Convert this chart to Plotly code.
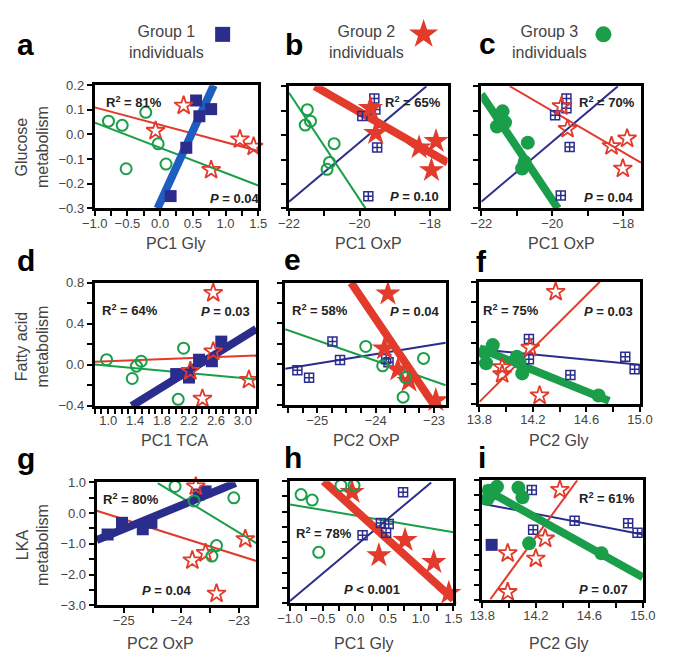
import plotly.graph_objects as go

W, H = 678, 672

NAVY = "#2B2D8C"
BLUE = "#1E5EC0"
RED = "#E23A2B"
GREEN = "#1A9E4A"
INK = "#444444"
FONT = "Liberation Sans, Arial, sans-serif"

# ---- a: glucose metabolism vs PC1 Gly (group 1 highlighted)
a_g1_x = [0.55, 0.60, 0.78, 0.40, 0.16]
a_g1_y = [0.138, 0.074, 0.103, -0.054, -0.25]
a_g2_x = [0.36, -0.07, 0.78, 1.22, 1.43]
a_g2_y = [0.117, 0.015, -0.144, -0.02, -0.049]
a_g3_x = [-0.79, -0.58, -0.22, -0.03, 0.09, -0.52]
a_g3_y = [0.054, 0.037, 0.09, -0.038, -0.12, -0.139]
a_fit_x = [[-0.04, 0.82], [-1.0, 1.5], [-1.0, 1.5]]
a_fit_y = [[-0.3, 0.2], [0.11, -0.067], [0.048, -0.207]]

# ---- b: glucose metabolism vs PC1 OxP (group 2 highlighted)
b_g1_x = [-19.58, -19.55, -19.92, -19.5, -19.75]
b_g1_y = [0.15, 0.105, 0.078, -0.051, -0.25]
b_g2_x = [-19.69, -19.54, -18.31, -17.83, -17.96]
b_g2_y = [0.11, 0.008, -0.051, -0.025, -0.144]
b_g3_x = [-21.48, -21.39, -21.54, -20.72, -20.85, -20.92]
b_g3_y = [0.104, 0.057, 0.041, -0.035, -0.112, -0.14]
b_fit_x = [[-22.0, -18.1], [-21.27, -17.5], [-22.0, -19.83]]
b_fit_y = [[-0.273, 0.2], [0.2, -0.112], [0.173, -0.3]]

# ---- c: glucose metabolism vs PC1 OxP (group 3 highlighted)
c_g1_x = [-19.6, -19.6, -19.92, -19.51, -19.76]
c_g1_y = [0.15, 0.11, 0.081, -0.049, -0.247]
c_g2_x = [-19.74, -19.57, -18.33, -17.89, -18.01]
c_g2_y = [0.118, 0.025, -0.045, -0.014, -0.137]
c_g3_x = [-21.4, -21.46, -21.56, -21.33, -20.69, -20.85, -20.78]
c_g3_y = [0.097, 0.068, 0.035, 0.052, -0.031, -0.137, -0.11]
c_fit_x = [[-22.0, -18.15], [-21.2, -17.5], [-22.0, -19.84]]
c_fit_y = [[-0.273, 0.2], [0.2, -0.113], [0.167, -0.3]]

# ---- d: fatty acid metabolism vs PC1 TCA
d_g1_x = [2.01, 2.2, 2.35, 2.54, 2.68]
d_g1_y = [-0.09, -0.124, 0.05, 0.035, 0.226]
d_g2_x = [2.56, 2.56, 2.22, 2.40, 3.09]
d_g2_y = [0.70, 0.13, -0.06, -0.33, -0.146]
d_g3_x = [0.976, 1.42, 1.49, 1.357, 2.12, 2.04]
d_g3_y = [0.05, -0.013, 0.035, -0.133, 0.162, -0.336]
d_fit_x = [[1.35, 3.2], [0.8, 3.2], [0.8, 3.2]]
d_fit_y = [[-0.4, 0.35], [0.029, 0.092], [0.003, -0.14]]

# ---- e: fatty acid metabolism vs PC2 OxP
e_g1_x = [-25.34, -25.14, -24.74, -24.61, -23.82, -23.78]
e_g1_y = [-0.06, -0.133, 0.222, 0.041, 0.05, 0.02]
e_g2_x = [-23.79, -23.85, -23.62, -23.43, -22.97]
e_g2_y = [0.692, 0.152, -0.054, -0.165, -0.355]
e_g3_x = [-24.17, -23.88, -23.18, -23.49, -23.53]
e_g3_y = [0.174, -0.016, 0.057, -0.133, -0.324]
e_fit_x = [[-25.55, -22.8], [-24.42, -23.0], [-25.55, -22.8]]
e_fit_y = [[-0.045, 0.21], [0.8, -0.4], [0.343, -0.207]]

# ---- f: fatty acid metabolism vs PC2 Gly
f_g1_x = [14.17, 14.17, 14.48, 14.89, 14.96]
f_g1_y = [0.238, 0.04, -0.117, 0.064, -0.06]
f_g2_x = [14.37, 14.18, 13.97, 13.97, 14.25]
f_g2_y = [0.70, 0.152, -0.038, -0.108, -0.317]
f_g3_x = [13.84, 13.90, 13.85, 14.08, 14.10, 14.12, 14.69]
f_g3_y = [0.105, 0.178, 0.0, 0.064, 0.01, -0.10, -0.317]
f_fit_x = [[13.8, 15.0], [13.8, 14.70], [13.8, 14.77]]
f_fit_y = [[0.136, -0.016], [-0.38, 0.8], [0.146, -0.37]]

# ---- g: LKA metabolism vs PC2 OxP
g_g1_x = [-25.28, -25.03, -24.67, -24.52, -23.70, -23.58]
g_g1_y = [-0.70, -0.32, -0.53, -0.32, 0.6, 0.7]
g_g2_x = [-23.75, -23.81, -23.58, -23.39, -22.89]
g_g2_y = [0.86, -1.54, -1.30, -2.62, -0.85]
g_g3_x = [-24.11, -23.78, -23.09, -23.39, -23.47]
g_g3_y = [0.86, 0.39, 0.49, -1.06, -1.4]
g_fit_x = [[-25.47, -23.06], [-25.47, -22.7], [-24.41, -22.7]]
g_fit_y = [[-0.88, 0.97], [0.07, -1.56], [0.97, -0.98]]

# ---- h: LKA metabolism vs PC1 Gly
h_g1_x = [0.73, 0.11, 0.39, 0.51, 0.47]
h_g1_y = [0.64, -0.77, -0.37, -0.40, -0.69]
h_g2_x = [-0.05, 0.36, 0.76, 1.2, 1.43]
h_g2_y = [0.64, -1.43, -0.93, -1.65, -2.66]
h_g3_x = [-0.83, -0.66, -0.56, -0.22, -0.02]
h_g3_y = [0.56, 0.38, -1.33, 0.86, 0.86]
h_fit_x = [[-1.0, 1.16], [-0.485, 1.5], [-1.0, 1.5]]
h_fit_y = [[-2.92, 0.96], [1.0, -2.87], [0.24, -0.67]]

# ---- i: LKA metabolism vs PC2 Gly
i_g1_x = [14.17, 14.18, 14.49, 14.89, 14.96]
i_g1_y = [0.67, -0.65, -0.35, -0.43, -0.75]
i_g1b_x = [13.87]
i_g1b_y = [-1.15]
i_g2_x = [14.38, 14.27, 13.99, 14.20, 13.99]
i_g2_y = [0.68, -0.94, -1.43, -1.61, -2.72]
i_g3_x = [13.84, 13.85, 13.91, 13.87, 14.07, 14.10, 14.15, 14.69]
i_g3_y = [0.38, 0.65, 0.78, 0.54, 0.75, 0.43, -1.1, -1.43]
i_fit_x = [[13.8, 15.0], [13.86, 14.51], [13.8, 15.0]]
i_fit_y = [[0.22, -0.81], [-2.96, 1.0], [0.75, -2.23]]

r2_values = ["81%", "65%", "70%", "64%", "58%", "75%", "80%", "78%", "61%"]
p_values = ["= 0.04", "= 0.10", "= 0.04", "= 0.03", "= 0.04", "= 0.03", "= 0.04", "&lt; 0.001", "= 0.07"]
x_titles = ["PC1 Gly", "PC1 OxP", "PC1 OxP", "PC1 TCA", "PC2 OxP", "PC2 Gly", "PC2 OxP", "PC1 Gly", "PC2 Gly"]
row_titles = ["Glucose<br>metabolism", "Fatty acid<br>metabolism", "LKA<br>metabolism"]
group_names = ["Group 1<br>individuals", "Group 2<br>individuals", "Group 3<br>individuals"]

GROUP_COLORS = [NAVY, RED, GREEN]
OPEN_MARKERS = [dict(symbol="square-cross-open", size=9, line=dict(width=1.5)),
                dict(symbol="star-open", size=14, line=dict(width=1.8)),
                dict(symbol="circle-open", size=11, line=dict(width=2))]
FILLED_MARKERS = [dict(symbol="square", size=12, line=dict(width=0)),
                  dict(symbol="star", size=19, line=dict(width=0)),
                  dict(symbol="circle", size=14, line=dict(width=0))]

row_ticks = [dict(tick0=0, dtick=0.1, minor=None),
             dict(tick0=0, dtick=0.4, minor=0.2),
             dict(tick0=0, dtick=1.0, minor=0.5)]

# pixel boxes (left, right, top, bottom) of each panel
panels = [
    dict(box=(85, 255, 80, 206), xr=[-1.0, 1.5], yr=[-0.3, 0.2], xt=(-1, 0.5, 0.25, ".1f"),
         g=[(a_g1_x, a_g1_y), (a_g2_x, a_g2_y), (a_g3_x, a_g3_y)], fx=a_fit_x, fy=a_fit_y,
         focus=0, fcolor=BLUE, r2=(95, 97), p=(203, 196), xt_at=170),
    dict(box=(287, 452, 81, 206), xr=[-22.0, -17.5], yr=[-0.3, 0.2], xt=(-22, 2, 1, "d"),
         g=[(b_g1_x, b_g1_y), (b_g2_x, b_g2_y), (b_g3_x, b_g3_y)], fx=b_fit_x, fy=b_fit_y,
         focus=1, fcolor=RED, r2=(385, 97), p=(390, 194), xt_at=370),
    dict(box=(487, 653, 81, 206), xr=[-22.0, -17.5], yr=[-0.3, 0.2], xt=(-22, 2, 1, "d"),
         g=[(c_g1_x, c_g1_y), (c_g2_x, c_g2_y), (c_g3_x, c_g3_y)], fx=c_fit_x, fy=c_fit_y,
         focus=2, fcolor=GREEN, r2=(587, 97), p=(592, 195), xt_at=570),
    dict(box=(85, 253, 282, 408), xr=[0.8, 3.2], yr=[-0.4, 0.8], xt=(1.0, 0.4, 0.1, ".1f"),
         g=[(d_g1_x, d_g1_y), (d_g2_x, d_g2_y), (d_g3_x, d_g3_y)], fx=d_fit_x, fy=d_fit_y,
         focus=0, fcolor=NAVY, r2=(90, 310), p=(193, 311), xt_at=168),
    dict(box=(283, 450, 282, 407), xr=[-25.55, -22.8], yr=[-0.4, 0.8], xt=(-25, 1, 0.25, "d"),
         g=[(e_g1_x, e_g1_y), (e_g2_x, e_g2_y), (e_g3_x, e_g3_y)], fx=e_fit_x, fy=e_fit_y,
         focus=1, fcolor=RED, r2=(288, 310), p=(390, 311), xt_at=368),
    dict(box=(485, 652, 281, 406), xr=[13.8, 15.0], yr=[-0.4, 0.8], xt=(13.8, 0.4, 0.2, ".1f"),
         g=[(f_g1_x, f_g1_y), (f_g2_x, f_g2_y), (f_g3_x, f_g3_y)], fx=f_fit_x, fy=f_fit_y,
         focus=2, fcolor=GREEN, r2=(487, 310), p=(592, 311), xt_at=568),
    dict(box=(87, 253, 486, 612), xr=[-25.47, -22.7], yr=[-3.0, 1.0], xt=(-25, 1, 0.5, "d"),
         g=[(g_g1_x, g_g1_y), (g_g2_x, g_g2_y), (g_g3_x, g_g3_y)], fx=g_fit_x, fy=g_fit_y,
         focus=0, fcolor=NAVY, r2=(92, 503), p=(132, 597), xt_at=153),
    dict(box=(288, 458, 485, 610), xr=[-1.0, 1.5], yr=[-3.0, 1.0], xt=(-1, 0.5, 0.25, ".1f"),
         g=[(h_g1_x, h_g1_y), (h_g2_x, h_g2_y), (h_g3_x, h_g3_y)], fx=h_fit_x, fy=h_fit_y,
         focus=1, fcolor=RED, r2=(292, 538), p=(342, 596), xt_at=365),
    dict(box=(488, 655, 484, 607), xr=[13.8, 15.0], yr=[-3.0, 1.0], xt=(13.8, 0.4, 0.2, ".1f"),
         g=[(i_g1_x, i_g1_y), (i_g2_x, i_g2_y), (i_g3_x, i_g3_y)], fx=i_fit_x, fy=i_fit_y,
         focus=2, fcolor=GREEN, r2=(587, 502), p=(587, 596), xt_at=568),
]

letters = ["a", "b", "c", "d", "e", "f", "g", "h", "i"]
letter_at = [(13, 38), (292, 38), (493, 37), (14, 259), (291, 258), (487, 260),
             (14, 462), (291, 461), (488, 461)]
row_title_y = [143, 347, 550]
x_title_y = [242, 443, 651]


def px(x, y):
    return x / W, 1 - y / H


fig = go.Figure()
annotations = []
axes = {}
tick_style = dict(ticks="outside", ticklen=5, tickwidth=1.5, tickcolor="black")

for k, p in enumerate(panels):
    n = "" if k == 0 else str(k + 1)
    xa, ya = "x" + n, "y" + n
    row, col = divmod(k, 3)
    common = dict(xaxis=xa, yaxis=ya, showlegend=False, hoverinfo="skip", cliponaxis=False)

    # thin regression lines first, then the highlighted thick one
    for gi in range(3):
        if gi != p["focus"]:
            fig.add_trace(go.Scatter(x=p["fx"][gi], y=p["fy"][gi], mode="lines",
                                     line=dict(color=GROUP_COLORS[gi], width=2), **common))
    fi = p["focus"]
    fig.add_trace(go.Scatter(x=p["fx"][fi], y=p["fy"][fi], mode="lines",
                             line=dict(color=p["fcolor"], width=8), **common))

    for gi in range(3):
        gx, gy = p["g"][gi]
        style = FILLED_MARKERS[gi] if gi == fi else OPEN_MARKERS[gi]
        fig.add_trace(go.Scatter(x=gx, y=gy, mode="markers",
                                 marker=dict(color=GROUP_COLORS[gi], **style), **common))
    if k == 8:
        fig.add_trace(go.Scatter(x=i_g1b_x, y=i_g1b_y, mode="markers",
                                 marker=dict(color=NAVY, **FILLED_MARKERS[0]), **common))

    l, r, t, b = p["box"]
    x0, dx, mdx, xfmt = p["xt"]
    axes["xaxis" + n] = dict(
        domain=[l / W, r / W], range=p["xr"], anchor=ya, tick0=x0, dtick=dx,
        tickformat=xfmt, showline=True, linewidth=3, linecolor="black", mirror=True,
        showgrid=False, zeroline=False, tickfont=dict(size=13, color=INK), ticklabelstandoff=-4,
        minor=dict(tick0=x0, dtick=mdx, showgrid=False, **tick_style), **tick_style)
    yt = row_ticks[row]
    yax = dict(
        domain=[1 - b / H, 1 - t / H], range=p["yr"], anchor=xa, tick0=yt["tick0"],
        dtick=yt["dtick"], tickformat=".1f", showticklabels=(col == 0),
        showline=True, linewidth=3, linecolor="black", mirror=True,
        showgrid=False, zeroline=False, tickfont=dict(size=13, color=INK), **tick_style)
    if yt["minor"]:
        yax["minor"] = dict(tick0=0, dtick=yt["minor"], showgrid=False, **tick_style)
    axes["yaxis" + n] = yax

    rx, ry = px(*p["r2"])
    annotations.append(dict(x=rx, y=ry, xref="paper", yref="paper", xanchor="left", yanchor="middle",
                            text="<b>R<sup>2</sup> = %s</b>" % r2_values[k], showarrow=False,
                            font=dict(size=13, color="#222222")))
    qx, qy = px(*p["p"])
    annotations.append(dict(x=qx, y=qy, xref="paper", yref="paper", xanchor="left", yanchor="middle",
                            text="<b><i>P</i> %s</b>" % p_values[k], showarrow=False,
                            font=dict(size=13, color="#222222")))
    tx, ty = px(p["xt_at"], x_title_y[row])
    annotations.append(dict(x=tx, y=ty, xref="paper", yref="paper", xanchor="center", yanchor="middle",
                            text=x_titles[k], showarrow=False, font=dict(size=16, color=INK)))
    lx, ly = px(*letter_at[k])
    annotations.append(dict(x=lx, y=ly, xref="paper", yref="paper", xanchor="center", yanchor="middle",
                            text="<b>%s</b>" % letters[k], showarrow=False,
                            font=dict(size=30, color="black")))

for row in range(3):
    cx, cy = px(20, row_title_y[row])
    annotations.append(dict(x=cx, y=cy, xref="paper", yref="paper", textangle=-90,
                            xanchor="center", yanchor="middle", text=row_titles[row],
                            showarrow=False, font=dict(size=16, color=INK)))

# group key in the header (its own small strip above the panels)
key_text_x = [160, 368, 558]
key_mark_x = [218, 427, 614]
key_mark_y = [28, 28, 28]
key_symbols = ["square", "star", "circle"]
key_sizes = [15, 22, 16]
for gi in range(3):
    kx, ky = px(key_text_x[gi], 36)
    annotations.append(dict(x=kx, y=ky, xref="paper", yref="paper", xanchor="center", yanchor="middle",
                            text=group_names[gi], showarrow=False, align="center",
                            font=dict(size=16, color=INK)))
    fig.add_trace(go.Scatter(
        x=[key_mark_x[gi]], y=[key_mark_y[gi]], mode="markers", xaxis="x10", yaxis="y10",
        marker=dict(symbol=key_symbols[gi], size=key_sizes[gi], color=GROUP_COLORS[gi],
                    line=dict(width=0)),
        showlegend=False, hoverinfo="skip", cliponaxis=False))
axes["xaxis10"] = dict(domain=[0, 1], range=[0, W], visible=False, anchor="y10")
axes["yaxis10"] = dict(domain=[1 - 70 / H, 1], range=[70, 0], visible=False, anchor="x10")

fig.update_layout(
    width=W, height=H, margin=dict(l=0, r=0, t=0, b=0),
    paper_bgcolor="white", plot_bgcolor="rgba(0,0,0,0)",
    font=dict(family=FONT), annotations=annotations, **axes)

fig.write_html("out.html", config={"displayModeBar": False},
               post_script="document.body.style.margin='0';")
